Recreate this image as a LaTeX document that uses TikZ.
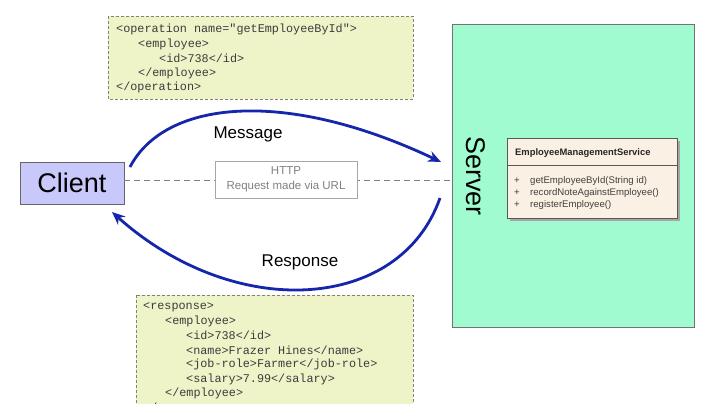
\documentclass[tikz,border=0pt]{standalone}
\usepackage{fontspec}
\setmainfont{Liberation Sans}
\newfontfamily\codefont{Liberation Mono}
\usetikzlibrary{arrows.meta,positioning}
\definecolor{codebg}{RGB}{238,244,200}
\definecolor{codeborder}{RGB}{130,130,120}
\definecolor{codetext}{RGB}{60,60,60}
\definecolor{clientbg}{RGB}{200,200,250}
\definecolor{serverbg}{RGB}{160,252,208}
\definecolor{umlbg}{RGB}{250,240,228}
\definecolor{arrowblue}{RGB}{22,38,170}
\definecolor{lightline}{RGB}{128,128,128}
\tikzset{
  codebox/.style={draw=codeborder, fill=codebg, dash pattern=on 3pt off 2pt, line width=0.8pt},
  codeline/.style={anchor=west, inner sep=0pt, font=\codefont\fontsize{11.8}{14}\selectfont, text=codetext},
  flow/.style={draw=arrowblue, line width=2.8pt, -{Stealth[length=13pt,width=11pt]}},
  flowlabel/.style={font=\fontsize{17}{20}\selectfont, inner sep=0pt},
  method/.style={anchor=west, inner sep=0pt, font=\fontsize{9.6}{11}\selectfont, text=black!75},
}
\begin{document}
\begin{tikzpicture}[x=1pt,y=-1pt]
\useasboundingbox (0,0) rectangle (720,404);
\clip (0,0) rectangle (720,404);
\fill[white] (0,0) rectangle (720,404);

% top XML box
\path[codebox] (108,16) rectangle (413,99);
\node[codeline] (q1) at (116,29) {<operation name="getEmployeeById">};
\node[codeline] (q2) at (138,44) {<employee>};
\node[codeline] (q3) at (159,58) {<id>738</id>};
\node[codeline] (q4) at (138,73) {</employee>};
\node[codeline] (q5) at (116,87) {</operation>};

% bottom XML box
\path[codebox] (136,295) rectangle (413,440);
\node[codeline] (r1) at (143,307) {<response>};
\node[codeline] (r2) at (165,321) {<employee>};
\node[codeline] (r3) at (186,335) {<id>738</id>};
\node[codeline] (r4) at (186,350) {<name>Frazer Hines</name>};
\node[codeline] (r5) at (186,364) {<job-role>Farmer</job-role>};
\node[codeline] (r6) at (186,379) {<salary>7.99</salary>};
\node[codeline] (r7) at (165,393) {</employee>};
\node[codeline] (r8) at (143,408) {</response>};

% server
\node[draw=black!55, fill=serverbg, line width=0.9pt, minimum width=242pt, minimum height=303pt, inner sep=0pt] (server) at (573,175.5) {};
\node[rotate=-90, font=\fontsize{27}{30}\selectfont, inner sep=0pt] (servertitle) at (476,176) {Server};

% UML class
\fill[black!35] (510,141) rectangle (680,221);
\node[draw=black!65, fill=umlbg, line width=0.8pt, minimum width=170pt, minimum height=80pt, inner sep=0pt] (uml) at (592,178) {};
\draw[black!65, line width=0.8pt] (507,165) -- (677,165);
\node[anchor=west, inner sep=0pt, font=\bfseries\fontsize{9.4}{11}\selectfont, text=black!85] (umlname) at (515,153) {EmployeeManagementService};
\node[method] (p1) at (514,181) {+};
\node[method] (p2) at (514,193) {+};
\node[method] (p3) at (514,205) {+};
\node[method] (m1) at (530,181) {getEmployeeById(String id)};
\node[method] (m2) at (530,193) {recordNoteAgainstEmployee()};
\node[method] (m3) at (530,205) {registerEmployee()};

% client
\node[draw=black!60, fill=clientbg, line width=0.8pt, minimum width=104pt, minimum height=42pt, inner sep=0pt, font=\fontsize{27}{30}\selectfont] (client) at (72,183) {Client};

% dashed connection and HTTP box
\draw[lightline, line width=0.8pt, dash pattern=on 6pt off 4pt] (client.east |- 0,180) -- (server.west |- 0,180);
\node[draw=black!35, fill=white, line width=0.8pt, minimum width=142pt, minimum height=37pt, inner sep=0pt, align=center, text=black!50, font=\fontsize{11.5}{15}\selectfont] (http) at (286,179.5) {HTTP\\Request made via URL};

% arrows
\coordinate (mstart) at (130,167);
\coordinate (mend) at (441,162);
\coordinate (rstart) at (440,198);
\coordinate (rend) at (112,212);
\draw[flow] (mstart) .. controls (165,100) and (285,88) .. (mend);
\draw[flow] (rstart) .. controls (400,312) and (235,322) .. (rend);
\node[flowlabel] (msg) at (248,134) {Message};
\node[flowlabel] (resp) at (300,262) {Response};
\end{tikzpicture}
\end{document}
